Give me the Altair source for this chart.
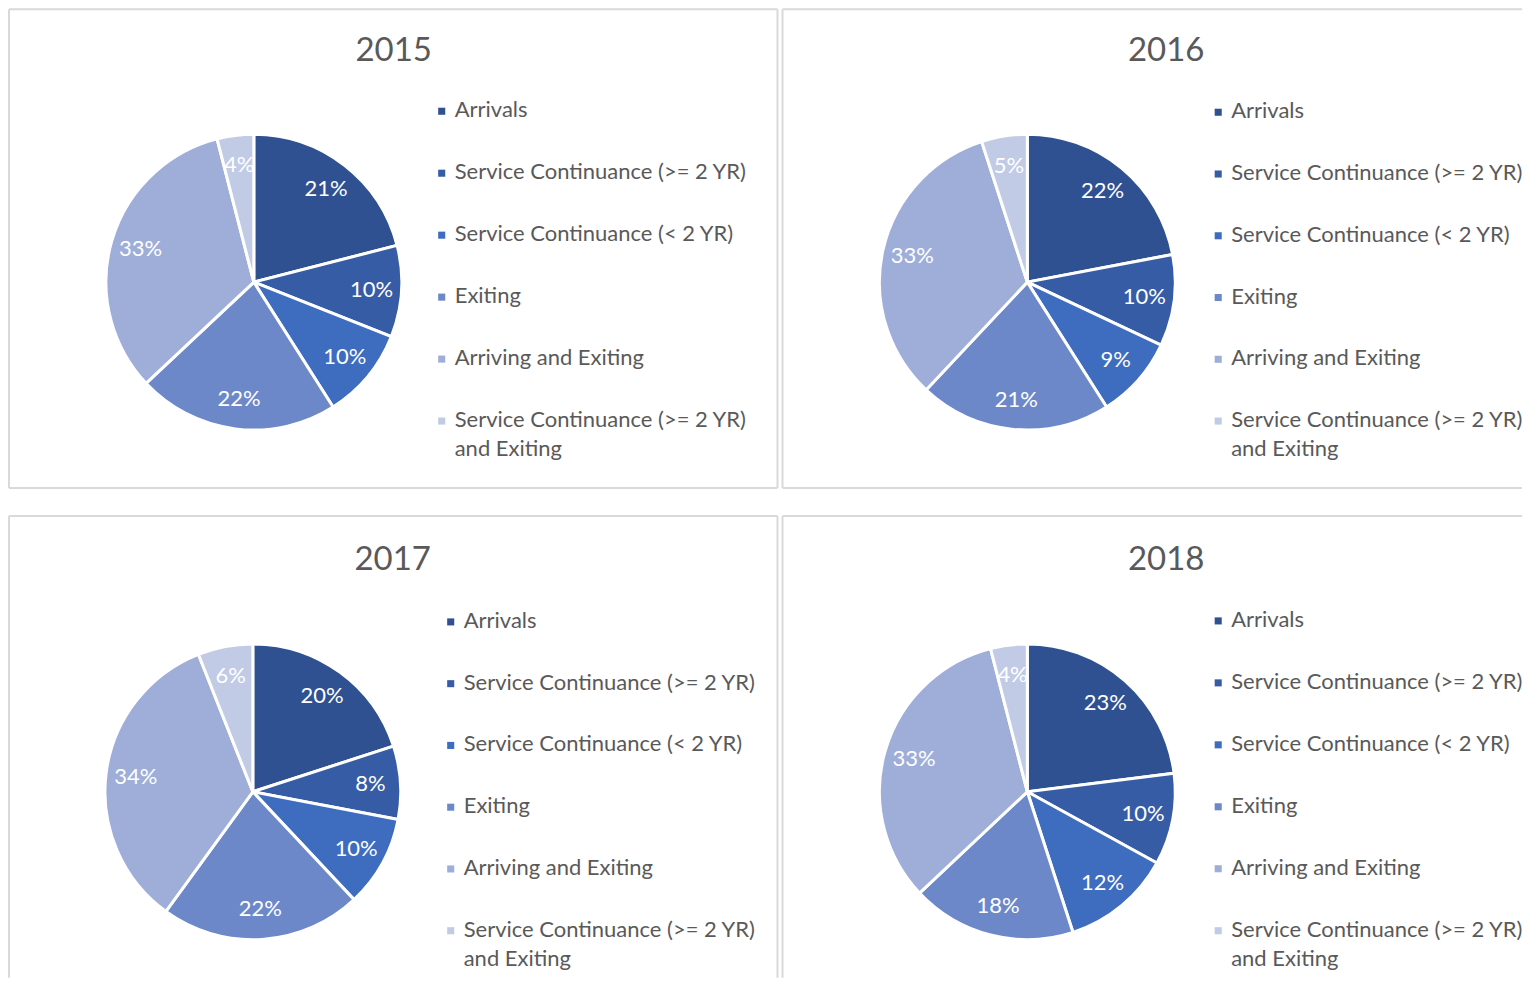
import altair as alt
import pandas as pd

# ---------------- data ----------------
years = ["2015", "2016", "2017", "2018"]
categories = [
    "Arrivals",
    "Service Continuance (>= 2 YR)",
    "Service Continuance (< 2 YR)",
    "Exiting",
    "Arriving and Exiting",
    "Service Continuance (>= 2 YR) and Exiting",
]
legend_labels = [
    "Arrivals",
    "Service Continuance (>= 2 YR)",
    "Service Continuance (< 2 YR)",
    "Exiting",
    "Arriving and Exiting",
    "Service Continuance (>= 2 YR)\nand Exiting",
]
shares_2015 = [21, 10, 10, 22, 33, 4]
shares_2016 = [22, 10, 9, 21, 33, 5]
shares_2017 = [20, 8, 10, 22, 34, 6]
shares_2018 = [23, 10, 12, 18, 33, 4]

colors = ["#2F5191", "#375CA6", "#3E6CBE", "#6C88C9", "#9EAED8", "#C2CBE6"]

FONT = "Lato"
TEXT_COLOR = "#595959"
BORDER = "#D9D9D9"

# per-panel layout (size, pie centre, title position, legend position, visible edges)
layout = {
    "2015": dict(w=769, h=479, cx=245, cy=273, tx=385, ty=42, lx=433, ly0=102, ly1=412,
                 edges=("top", "bottom", "left", "right")),
    "2016": dict(w=740, h=479, cx=245, cy=273, tx=384, ty=42, lx=436, ly0=103, ly1=412,
                 edges=("top", "bottom", "left")),
    "2017": dict(w=769, h=462, cx=244, cy=276, tx=384, ty=44, lx=442, ly0=106, ly1=415,
                 edges=("top", "left", "right")),
    "2018": dict(w=740, h=462, cx=245, cy=276, tx=384, ty=44, lx=436, ly0=105, ly1=415,
                 edges=("top", "left")),
}
values_by_year = {"2015": shares_2015, "2016": shares_2016,
                  "2017": shares_2017, "2018": shares_2018}

color_scale = alt.Scale(domain=categories, range=colors)
one = pd.DataFrame({"k": [0]})


def edge(name, w, h):
    base = alt.Chart(one).mark_rule(color=BORDER, strokeWidth=2)
    if name == "top":
        return base.encode(x=alt.value(0), x2=alt.value(w), y=alt.value(0))
    if name == "bottom":
        return base.encode(x=alt.value(0), x2=alt.value(w), y=alt.value(h))
    if name == "left":
        return base.encode(x=alt.value(0), y=alt.value(0), y2=alt.value(h))
    return base.encode(x=alt.value(w), y=alt.value(0), y2=alt.value(h))


def panel(year):
    L = layout[year]
    vals = values_by_year[year]
    df = pd.DataFrame({
        "category": categories,
        "order": list(range(len(categories))),
        "value": vals,
        "label": [f"{v}%" for v in vals],
    })
    base = alt.Chart(df)
    theta = alt.Theta("value:Q", stack=True)
    order = alt.Order("order:Q", sort="ascending")

    pie = base.mark_arc(outerRadius=148, stroke="white", strokeWidth=3).encode(
        theta=theta,
        order=order,
        color=alt.Color("category:N", scale=color_scale, legend=None),
        x=alt.value(L["cx"]),
        y=alt.value(L["cy"]),
    )
    labels = base.mark_text(radius=118, fontSize=22, color="white", font=FONT).encode(
        theta=theta,
        order=order,
        text="label:N",
        x=alt.value(L["cx"]),
        y=alt.value(L["cy"]),
    )

    leg_df = pd.DataFrame({
        "category": categories,
        "idx": list(range(len(categories))),
        "text": legend_labels,
    })
    yscale = alt.Y("idx:Q", scale=alt.Scale(domain=[0, 5], range=[L["ly0"], L["ly1"]]), axis=None)
    leg_sq = alt.Chart(leg_df).mark_point(shape="square", filled=True, size=50, opacity=1).encode(
        x=alt.value(L["lx"]),
        y=yscale,
        color=alt.Color("category:N", scale=color_scale, legend=None),
    )
    leg_txt = alt.Chart(leg_df).mark_text(
        align="left", baseline="top", dy=-11, fontSize=22, font=FONT,
        color=TEXT_COLOR, lineBreak="\n", lineHeight=29,
    ).encode(
        x=alt.value(L["lx"] + 13),
        y=yscale,
        text="text:N",
    )

    title = alt.Chart(pd.DataFrame({"year": [year]})).mark_text(
        fontSize=33, font=FONT, color=TEXT_COLOR, align="center", baseline="middle"
    ).encode(text="year:N", x=alt.value(L["tx"]), y=alt.value(L["ty"]))

    borders = [edge(e, L["w"], L["h"]) for e in L["edges"]]

    return alt.layer(*borders, pie, labels, leg_sq, leg_txt, title).properties(
        width=L["w"], height=L["h"]
    )


row1 = alt.hconcat(panel("2015"), panel("2016"), spacing=3).resolve_scale(
    y="independent", theta="independent")
row2 = alt.hconcat(panel("2017"), panel("2018"), spacing=3).resolve_scale(
    y="independent", theta="independent")

chart = alt.vconcat(row1, row2, spacing=26).resolve_scale(
    y="independent", theta="independent"
).properties(padding=0, background="white").configure_view(
    strokeOpacity=0, strokeWidth=0
)

chart.save("out.html", embed_options={"renderer": "svg", "actions": False})
